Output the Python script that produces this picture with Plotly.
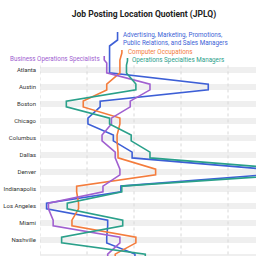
import plotly.graph_objects as go

cities = ["Atlanta", "Austin", "Boston", "Chicago", "Columbus", "Dallas", "Denver",
          "Indianapolis", "Los Angeles", "Miami", "Nashville", "New York"]

adv_mkt = [0.74, 1.79, 0.64, 0.51, 0.78, 0.98, 2.39, 0.86, 0.07, 0.72, 0.71, 1.01]
computer = [0.85, 0.71, 0.46, 0.85, 0.82, 0.83, 1.23, 0.39, 0.41, 0.34, 1.02, 0.80]
business_ops = [0.71, 1.17, 0.96, 0.76, 0.66, 0.80, 0.85, 0.67, 0.09, 0.14, 0.85, 0.72]
ops_mgrs = [0.92, 1.02, 0.28, 0.74, 0.97, 1.17, 2.66, 0.87, 0.29, 0.88, 0.23, 1.12]

series = [
    ("Advertising, Marketing, Promotions,<br>Public Relations, and Sales Managers", adv_mkt, "#3d5fd6"),
    ("Computer Occupations", computer, "#f47c3c"),
    ("Business Operations Specialists", business_ops, "#a060d0"),
    ("Operations Specialties Managers", ops_mgrs, "#2aa08a"),
]

W, H = 256, 256
ML, MT = 40, 20
PX_PER_UNIT = 94.0
ROW_PX = 17.0
ROW0_PX = 70.0
HALF = 0.17

def xdat(px):
    return (px - ML) / PX_PER_UNIT

def ydat(py):
    return (py - ROW0_PX) / ROW_PX

fig = go.Figure()

# grey bands
shapes = []
for i, c in enumerate(cities):
    shapes.append(dict(type="rect", xref="x", yref="y", x0=0, x1=5, y0=i - HALF, y1=i + HALF,
                       fillcolor="#efefef", line=dict(width=0), layer="below"))
for g in [0, 0.5, 1.0, 1.5, 2.0]:
    shapes.append(dict(type="line", xref="x", yref="y", x0=g, x1=g, y0=-HALF - 0.1, y1=12,
                       line=dict(color="#d8d8d8", width=1, dash="3px,3px"), layer="below"))

for name, vals, col in series:
    xs, ys = [], []
    for i, v in enumerate(vals):
        xs += [v, v]
        ys += [i - HALF, i + HALF]
    fig.add_trace(go.Scatter(x=xs, y=ys, mode="lines", line=dict(color=col, width=1.6),
                             name=name.replace("<br>", " "), hoverinfo="skip"))

# leader lines: (bend1 py, dx px, bend2 py, end py, text anchor, text dx, text py)
leaders = [
    (46, 8, 40, 32, "left", 3, 39),
    (60, 2, 53, 50, "left", 4, 52),
    (63, -2.5, 60, 56, "right", -2, 59),
    (65, 1, 61, 58, "left", 3, 60),
]
annots = []
for (name, vals, col), (b1, dx, b2, e, anc, tdx, tpy) in zip(series, leaders):
    v0 = vals[0]
    lx = [v0, v0, v0 + dx / PX_PER_UNIT, v0 + dx / PX_PER_UNIT]
    ly = [-HALF, ydat(b1), ydat(b2), ydat(e)]
    fig.add_trace(go.Scatter(x=lx, y=ly, mode="lines", line=dict(color=col, width=1.6),
                             showlegend=False, hoverinfo="skip"))
    annots.append(dict(x=v0 + (dx + tdx) / PX_PER_UNIT, y=ydat(tpy), xref="x", yref="y",
                       text=name, showarrow=False, xanchor=anc, yanchor="middle", align="left",
                       font=dict(family="Roboto", size=6.3, color=col)))

annots.append(dict(x=-3 / 216, y=(H - 257) / (H - MT), xref="paper", yref="paper",
                   text="New York", showarrow=False, xanchor="right", yanchor="middle",
                   font=dict(family="Roboto", size=6, color="#333")))

fig.update_layout(
    width=W, height=H,
    margin=dict(l=ML, r=0, t=MT, b=0),
    paper_bgcolor="white", plot_bgcolor="white",
    showlegend=False,
    title=dict(text="<b>Job Posting Location Quotient (JPLQ)</b>", x=144 / W, xanchor="center",
               y=1 - 14 / H, yanchor="middle",
               font=dict(family="Roboto", size=8.5, color="#222")),
    shapes=shapes,
    annotations=annots,
    xaxis=dict(range=[0, (W - ML) / PX_PER_UNIT], showgrid=False, zeroline=False,
               showticklabels=False, showline=False, fixedrange=True),
    yaxis=dict(range=[ydat(H), ydat(MT)], tickvals=list(range(len(cities))), ticktext=cities,
               showgrid=False, zeroline=False, showline=False, ticks="",
               tickfont=dict(family="Roboto", size=6, color="#333"), ticklabelstandoff=3),
)

fig.write_html("out.html")
